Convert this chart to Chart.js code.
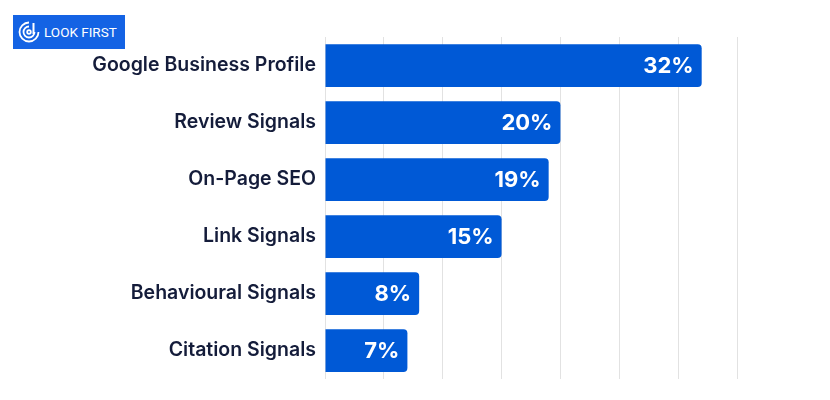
<!DOCTYPE html>
<html>
<head>
<meta charset="utf-8">
<script src="https://cdn.jsdelivr.net/npm/chart.js@4"></script>
<style>
  body { margin: 0; background: #fff; }
  #wrap { position: relative; width: 830px; height: 400px; }
  #logo {
    position: absolute; left: 13px; top: 15px; width: 112px; height: 34px;
    background: #1463e4; color: #fff; font: 400 13.5px Roboto, sans-serif;
    display: flex; align-items: center; box-sizing: border-box; padding-left: 4px;
  }
  #logo svg { margin-right: 3px; }
</style>
</head>
<body>
<div id="wrap">
  <canvas id="chart" width="830" height="400"></canvas>
  <div id="logo">
    <svg width="24" height="24" viewBox="0 0 24 24">
      <g fill="none" stroke="#fff" stroke-width="1.8">
        <path d="M12 2.5 A9.5 9.5 0 1 0 21.5 12"/>
        <path d="M12 6.5 A5.5 5.5 0 1 0 17.5 12"/>
        <circle cx="12" cy="12" r="1.8"/>
      </g>
      <rect x="15.5" y="3" width="2" height="11" fill="#fff"/>
    </svg>
    <span>LOOK FIRST</span>
  </div>
</div>
<script>
// ranking factors, share in %
const categories = ["Google Business Profile", "Review Signals", "On-Page SEO", "Link Signals", "Behavioural Signals", "Citation Signals"];
const shares = [32, 20, 19, 15, 8, 7];

const barBlue = "#0059d6";
const inkNavy = "#141c3a";

// value text at the right end of each bar
const endLabels = {
    id: "endLabels",
    afterDatasetsDraw(chart) {
        const ctx = chart.ctx;
        const meta = chart.getDatasetMeta(0);
        ctx.save();
        ctx.fillStyle = "#fff";
        ctx.font = "700 22px Inter, sans-serif";
        ctx.textAlign = "right";
        ctx.textBaseline = "middle";
        meta.data.forEach((bar, i) => {
            ctx.fillText(shares[i] + "%", bar.x - 8, bar.y + 1);
        });
        ctx.restore();
    }
};

new Chart(document.getElementById("chart"), {
    type: "bar",
    data: {
        labels: categories,
        datasets: [{
            data: shares,
            backgroundColor: barBlue,
            borderRadius: 4,
            borderSkipped: "start",
            barPercentage: 0.75,
            categoryPercentage: 1
        }]
    },
    options: {
        indexAxis: "y",
        responsive: false,
        animation: false,
        layout: { padding: { top: 37, bottom: 21, right: 93, left: 0 } },
        plugins: { legend: { display: false }, tooltip: { enabled: false } },
        scales: {
            x: {
                min: 0, max: 35,
                ticks: { display: false, stepSize: 5 },
                grid: { color: "#e2e2e2", lineWidth: 1, drawTicks: false },
                border: { display: false }
            },
            y: {
                afterFit(s) { s.width = 325; },
                ticks: {
                    color: inkNavy,
                    padding: 1,
                    font: { family: "Inter, sans-serif", size: 19.5, weight: "600" }
                },
                grid: { display: false },
                border: { display: false }
            }
        }
    },
    plugins: [endLabels]
});
</script>
</body>
</html>
